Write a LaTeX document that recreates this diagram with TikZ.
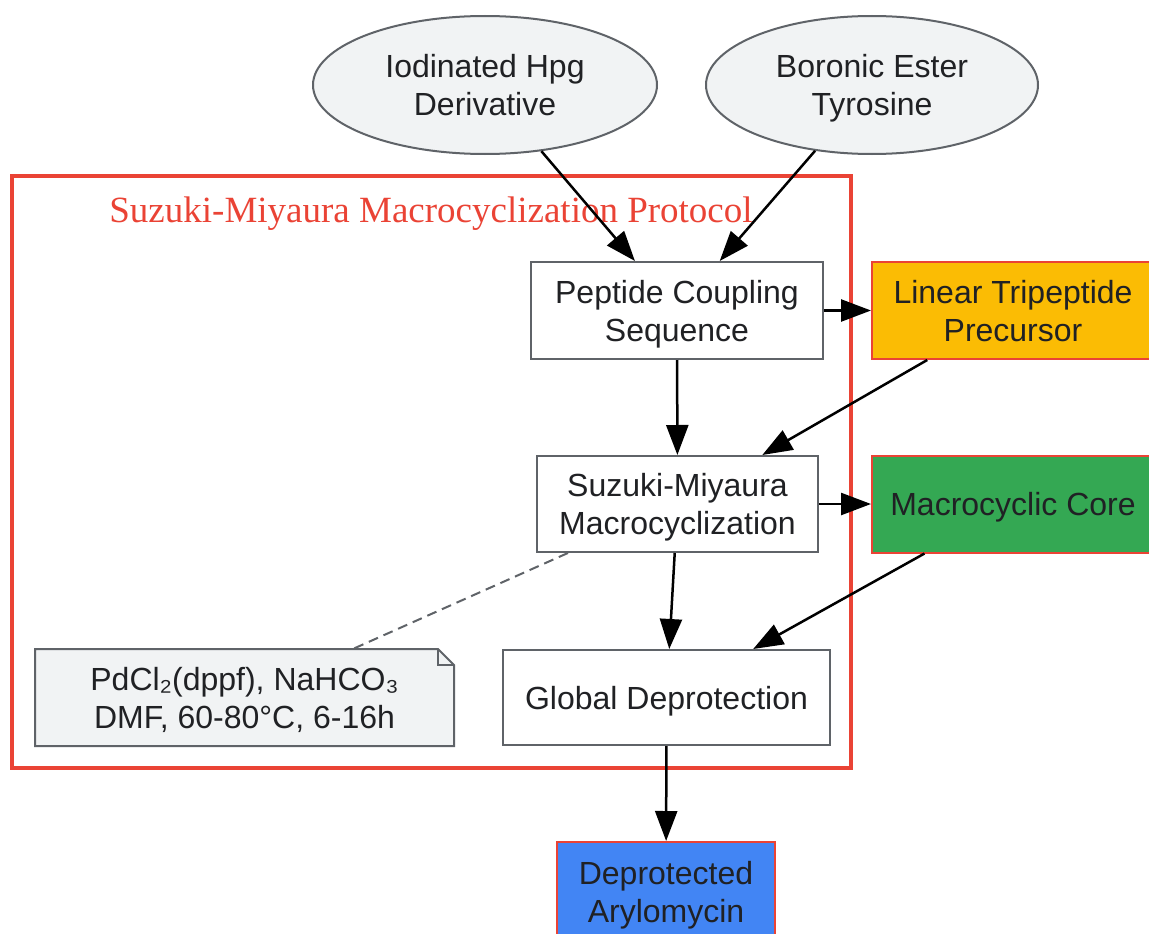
\documentclass[tikz,border=0pt]{standalone}
\usepackage{fontspec}
\setmainfont{Liberation Sans}
\newfontfamily\titlefont{Liberation Serif}
\usepackage{tikz}
\usetikzlibrary{shapes.geometric,arrows.meta}
\definecolor{inkgray}{HTML}{202124}
\definecolor{edgegray}{HTML}{5F6368}
\definecolor{softgray}{HTML}{F1F3F4}
\definecolor{clusterred}{HTML}{EA4335}
\definecolor{ambergold}{HTML}{FBBC04}
\definecolor{leafgreen}{HTML}{34A853}
\definecolor{skyblue}{HTML}{4285F4}

\begin{document}
\begin{tikzpicture}[x=1pt, y=-1pt, font=\fontsize{32}{38}\selectfont, text=inkgray,
	src/.style={ellipse, draw=edgegray, fill=softgray, line width=2pt, minimum width=344pt, minimum height=138pt, inner sep=0pt, align=center, text depth=0pt},
	proc/.style={rectangle, draw=edgegray, fill=white, line width=2pt, inner sep=0pt, align=center, text depth=0pt},
	product/.style={rectangle, draw=clusterred, line width=2pt, inner sep=0pt, align=center, text depth=0pt, minimum width=282pt, minimum height=97pt},
	link/.style={-{Triangle[length=30pt,width=22pt]}, line width=2.5pt, black}]
				\useasboundingbox (0,0) rectangle (1149,934);
				\clip (0,0) rectangle (1149,934);
				% protocol frame
				\draw[clusterred, line width=4pt] (12,176) rectangle (851,768);
				\node[font=\titlefont\fontsize{37}{44}\selectfont, text=clusterred, anchor=base] (ttl) at (431,222) {Suzuki-Miyaura Macrocyclization Protocol};
				% starting materials
				\node[src] (iodo) at (485,85) {Iodinated Hpg\\Derivative};
				\node[src, minimum width=332pt] (boro) at (872,85) {Boronic Ester\\Tyrosine};
				% steps
				\node[proc, minimum width=292pt, minimum height=97pt] (coupling) at (677,310.5) {Peptide Coupling\\Sequence};
				\node[proc, minimum width=281pt, minimum height=96pt] (suzuki) at (677.5,504) {Suzuki-Miyaura\\Macrocyclization};
				\node[proc, minimum width=327pt, minimum height=95pt] (deprot) at (666.5,697.5) {Global Deprotection};
				% products
				\node[product, fill=ambergold] (linear) at (1013,310.5) {Linear Tripeptide\\Precursor};
				\node[product, fill=leafgreen] (core) at (1013,504) {Macrocyclic Core};
				\node[product, fill=skyblue, minimum width=218pt, minimum height=100pt] (final) at (666,892) {Deprotected\\Arylomycin};
				% conditions note
				\draw[edgegray, fill=softgray, line width=2pt] (35,746) -- (35,649) -- (438,649) -- (454,665) -- (454,746) -- cycle;
				\draw[edgegray, line width=2pt] (438,649) -- (438,665) -- (454,665);
				\node[minimum width=419pt, minimum height=97pt, inner sep=0pt, align=center, text depth=0pt] (cond) at (244.5,697.5) {PdCl₂(dppf), NaHCO₃\\DMF, 60-80°C, 6-16h};
				% connectors
				\draw[link] (iodo) -- (coupling);
				\draw[link] (boro) -- (coupling);
				\draw[link] (coupling) -- (linear);
				\draw[link] (coupling) -- (suzuki);
				\draw[link] (linear) -- (suzuki);
				\draw[link] (suzuki) -- (core);
				\draw[link] (suzuki) -- (deprot);
				\draw[link] (core) -- (deprot);
				\draw[link] (deprot) -- (final);
				\draw[edgegray, line width=2pt, dash pattern=on 10pt off 6pt] (suzuki) -- (cond);
			\end{tikzpicture}
\end{document}
